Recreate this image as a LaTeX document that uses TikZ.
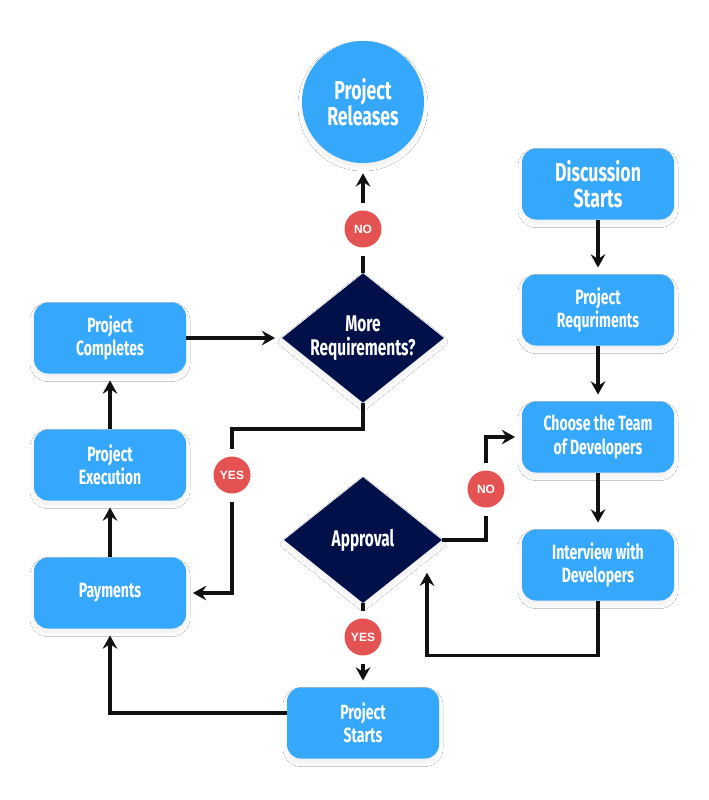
\documentclass[tikz,border=0pt]{standalone}
\usepackage{fontspec}
\setmainfont{Fira Sans}
\newfontfamily\boxfont{Fira Sans}[FakeStretch=0.68]
\newfontfamily\badgefont{Liberation Sans}
\usetikzlibrary{shapes.geometric,arrows.meta,shadows.blur}
\definecolor{boxblue}{HTML}{35A8FC}
\definecolor{navy}{HTML}{02104A}
\definecolor{badgered}{HTML}{E55252}
\definecolor{linecol}{HTML}{111111}
\tikzset{
  softshadow/.style={blur shadow={shadow xshift=0pt, shadow yshift=-3pt, shadow blur radius=3pt, shadow blur steps=12, shadow opacity=7}},
  procbox/.style={rectangle, rounded corners=10.5pt, fill=boxblue, text=white,
    minimum width=114pt, minimum height=53.25pt, align=center, inner sep=0pt,
    font=\boxfont\bfseries\fontsize{15.5}{17.5}\selectfont, softshadow},
  bigbox/.style={procbox, font=\boxfont\bfseries\fontsize{19.5}{19.5}\selectfont},
  endcircle/.style={circle, fill=boxblue, text=white, minimum size=91.5pt, inner sep=0pt,
    align=center, font=\boxfont\bfseries\fontsize{19.5}{19.5}\selectfont, softshadow},
  decision/.style={diamond, shape aspect=1.25, fill=navy, text=white, minimum width=118.5pt,
    minimum height=94.5pt, inner sep=0pt, align=center,
    font=\boxfont\bfseries\fontsize{17}{18.5}\selectfont, softshadow},
  badge/.style={circle, fill=badgered, text=white, minimum size=27.75pt, inner sep=0pt,
    outer sep=6pt, font=\badgefont\bfseries\fontsize{9}{10}\selectfont},
  conn/.style={draw=linecol, line width=2.5pt},
  arr/.style={conn, -{Stealth[length=10pt,width=11pt,inset=3.5pt]}, shorten >=5pt}
}
\begin{document}
\begin{tikzpicture}[x=0.75pt,y=-0.75pt]
\useasboundingbox[fill=white] (0,0) rectangle (708,800);
% nodes
\node[endcircle] (rel) at (363,102) {Project\\Releases};
\node[bigbox] (ds) at (598,184) {Discussion\\Starts};
\node[procbox] (pr) at (598,310) {Project\\Requriments};
\node[procbox] (ct) at (598,437) {Choose the Team\\of Developers};
\node[procbox] (iw) at (598,565) {Interview with\\Developers};
\node[procbox] (comp) at (110,338) {Project\\Completes};
\node[procbox] (exe) at (110,465) {Project\\Execution};
\node[procbox] (pay) at (110,593) {Payments};
\node[procbox] (ps) at (363,723) {Project\\Starts};
\node[decision] (mr) at (363,338) {More\\Requirements?};
\node[decision] (ap) at (363,540) {Approval};
\node[badge] (no1) at (363,229) {NO};
\node[badge] (yes1) at (232,475) {YES};
\node[badge] (no2) at (486,489) {NO};
\node[badge] (yes2) at (363,637) {YES};
\coordinate (apin) at (427,566);
% connectors
\draw[arr] (ds.south) -- (pr.north);
\draw[arr] (pr.south) -- (ct.north);
\draw[arr] (ct.south) -- (iw.north);
\draw[arr] (iw.south) -- ++(0,55) -| (apin);
\draw[conn] (ap.east) -| (no2.south);
\draw[arr] (no2.north) |- (ct.west);
\draw[conn] (ap.south) -- (yes2.north);
\draw[arr] (yes2.south) -- (ps.north);
\draw[arr] ([yshift=7.5pt]ps.west) -| (pay.south);
\draw[arr] (pay.north) -- (exe.south);
\draw[arr] (exe.north) -- (comp.south);
\draw[arr] (comp.east) -- (mr.west);
\draw[conn] (mr.south) -- ++(0,26) -| (yes1.north);
\draw[arr] (yes1.south) |- (pay.east);
\draw[conn] (mr.north) -- (no1.south);
\draw[arr, shorten >=7.5pt] (no1.north) -- (rel.south);
\end{tikzpicture}
\end{document}
